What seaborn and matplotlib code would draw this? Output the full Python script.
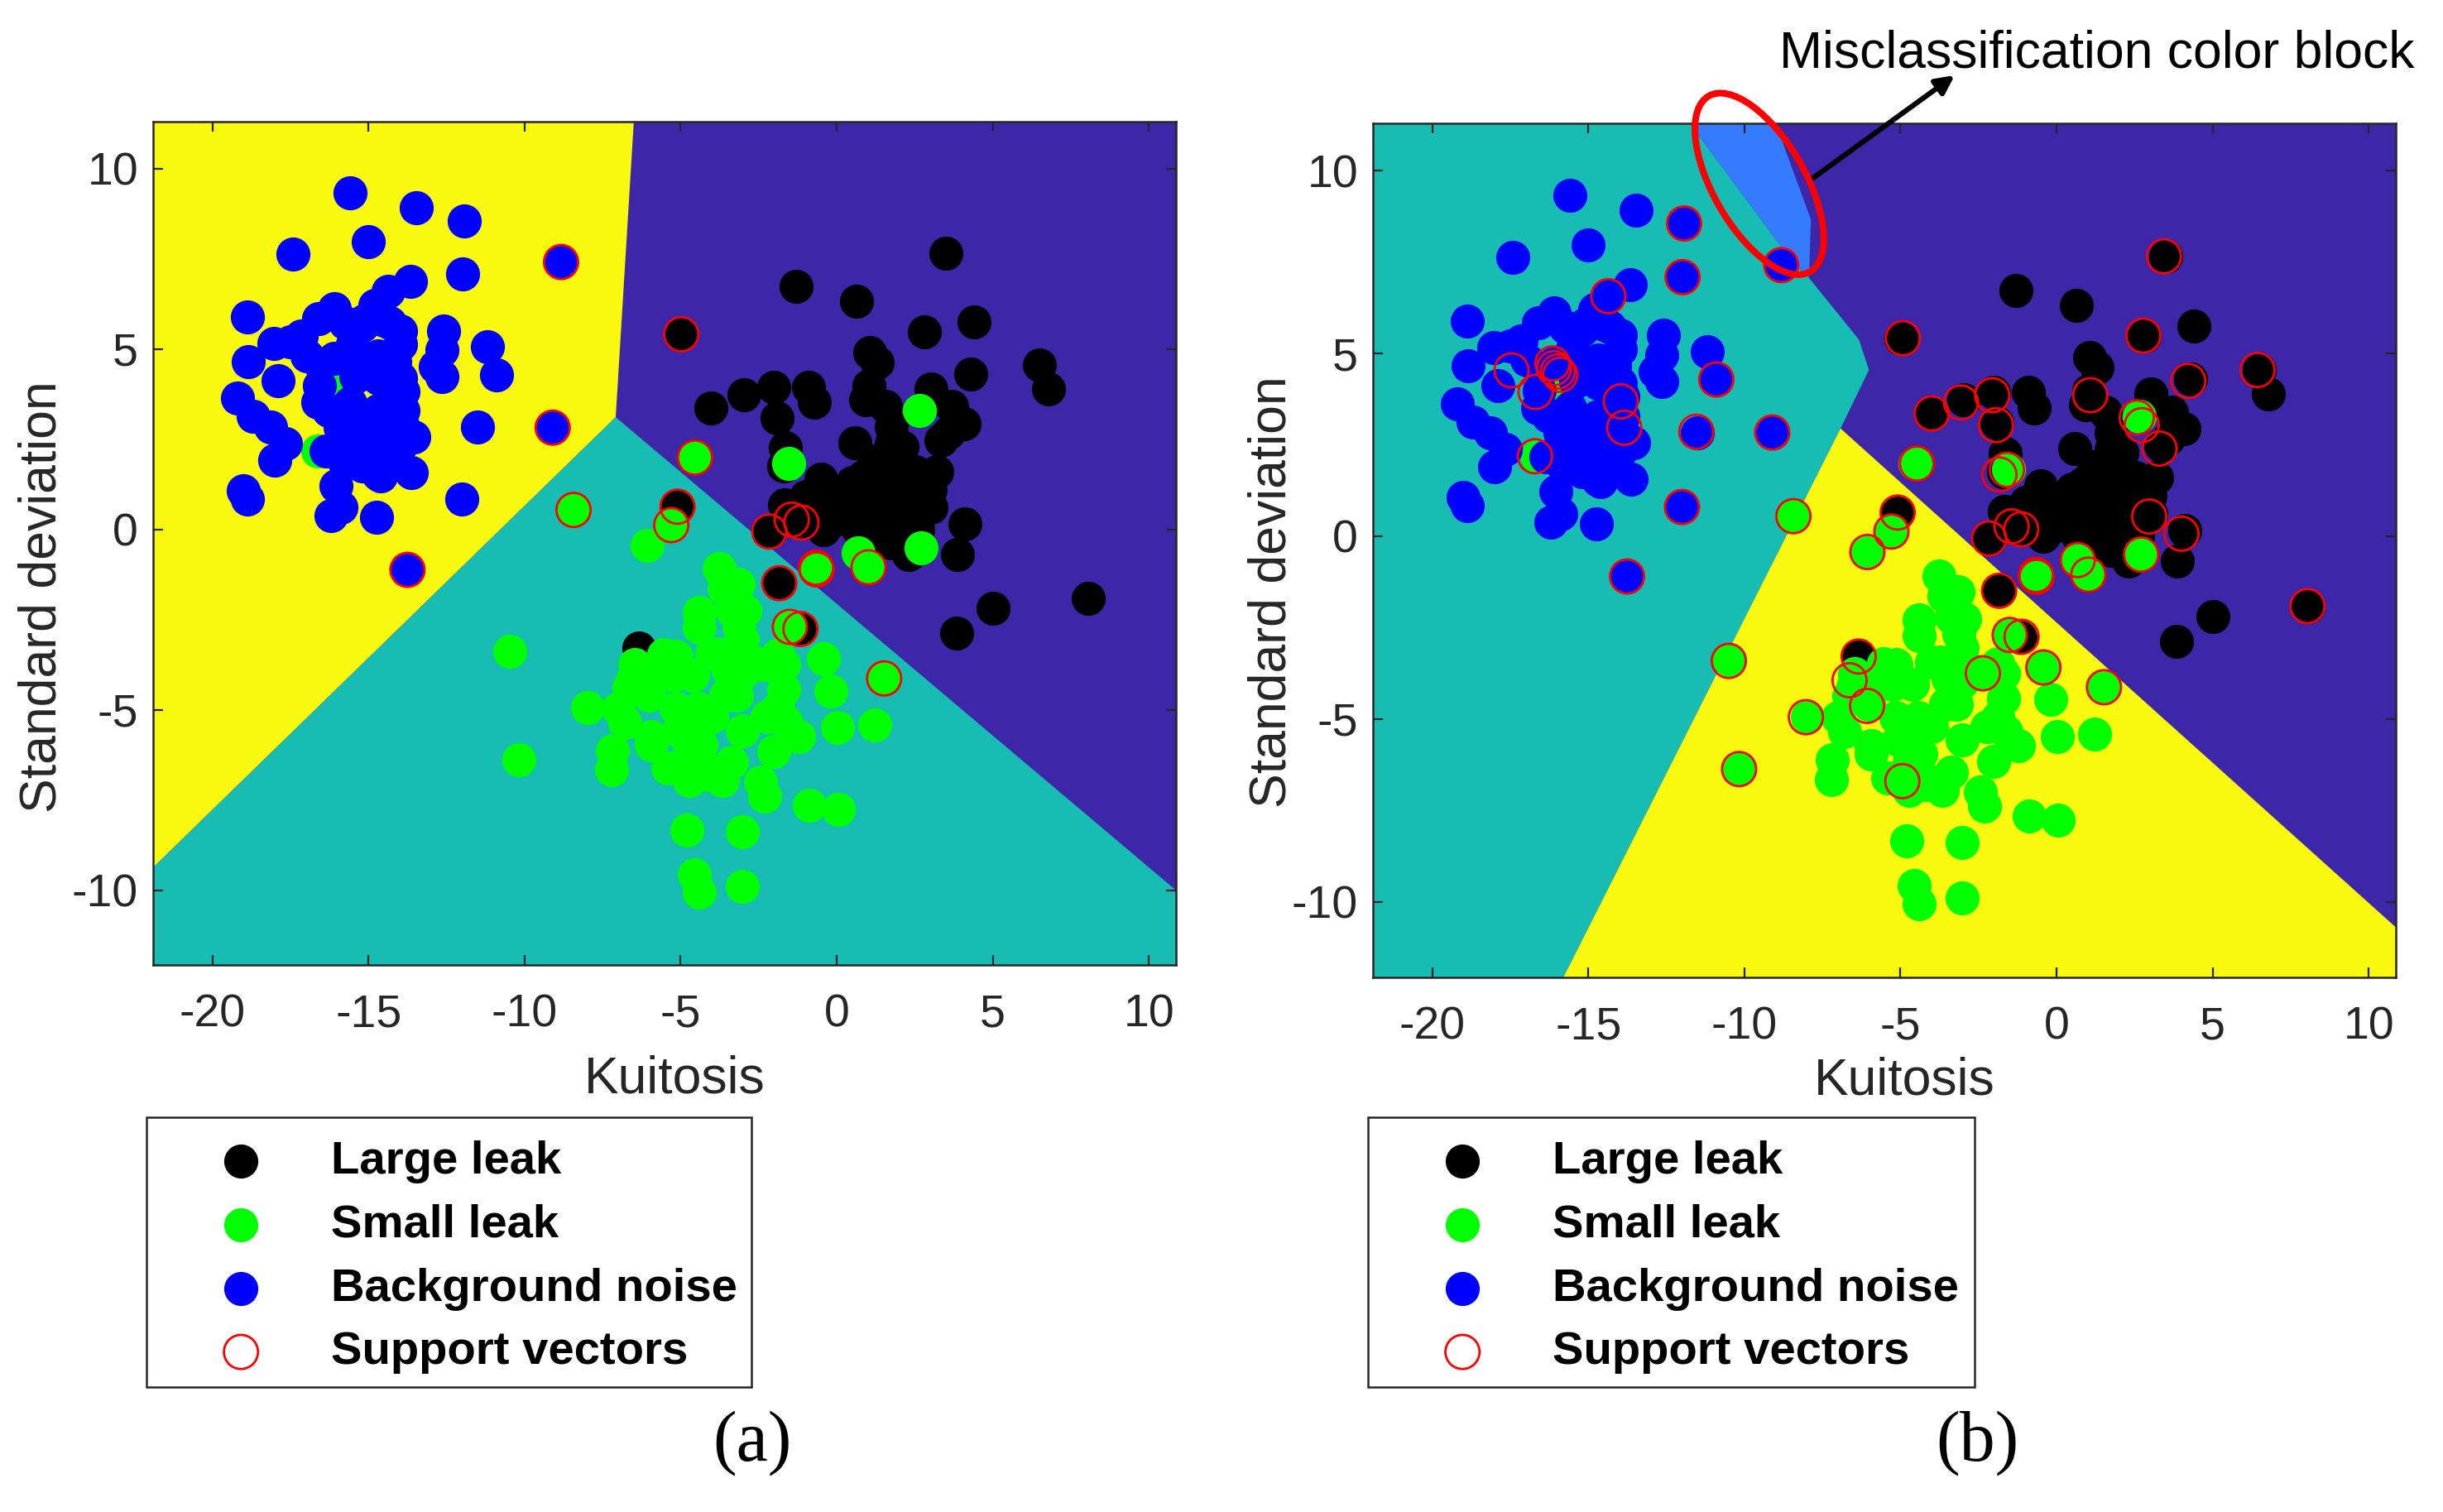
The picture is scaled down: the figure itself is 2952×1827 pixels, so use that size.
import numpy as np
import pandas as pd
import matplotlib
matplotlib.use("Agg")
import matplotlib.pyplot as plt
from matplotlib.patches import Ellipse, Rectangle
import seaborn as sns

sns.set_theme(style="white")
plt.rcParams['font.family'] = ['Liberation Sans', 'DejaVu Sans']
plt.rcParams['axes.unicode_minus'] = False

# ---------- data ----------
large_leak = [(-4.98,5.41),(-1.3,6.73),(0.63,6.32),(3.49,7.65),(2.82,5.48),(4.4,5.76),(1.07,4.9),(1.3,4.63),
 (1.03,3.98),(0.94,3.59),(1.56,3.4),(3.02,3.9),(4.3,4.3),(3.68,3.4),(4.08,2.94),(3.59,2.68),(3.33,2.48),
 (6.5,4.56),(6.8,3.89),(-4.03,3.37),(-2.98,3.73),(-2.01,3.94),(-0.91,3.94),(-0.72,3.52),(-1.9,3.1),(-1.64,2.26),(-1.7,1.76),
 (0.59,2.41),(1.74,2.83),(1.74,2.37),(2.09,2.29),(1.56,1.99),(3.2,1.61),(2.53,1.61),(2.09,1.83),(-0.51,1.39),(0.86,1.45),(0.5,1.3),
 (3.02,0.61),(4.12,0.15),(3.86,-0.69),(2.31,-0.69),(1.74,-0.38),(-0.42,0.0),(-1.66,0.69),(-0.99,0.92),(-0.38,1.07),(0.24,0.84),
 (0.94,1.07),(1.83,1.38),(2.27,0.99),(0.68,0.0),(1.3,-0.23),(2.0,0.15),(2.53,0.46),(-0.38,0.46),(0.24,0.31),(0.94,0.46),(1.83,0.69),
 (0.5,0.76),(1.39,1.38),(2.0,0.92),(-1.0,0.4),(-0.7,0.7),(2.7,-0.5),(1.2,1.9),(2.7,1.0),(1.3,0.6),(1.6,1.6),(2.6,0.0),(3.0,1.1),(-0.2,0.2),
 (8.05,-1.92),(5.0,-2.19),(3.85,-2.88),(-1.84,-1.49),(-5.1,0.63),(-2.16,-0.06),(-1.44,0.27),(-1.13,0.19),
 (-1.16,-2.76),(-6.34,-3.29)]

small_leak = [(2.65,3.29),(-1.55,1.83),(-4.54,1.99),(-8.43,0.54),(-5.3,0.12),(-6.07,-0.45),(0.68,-0.65),(1.02,-1.05),(2.71,-0.5),
 (-0.64,-1.11),(-1.5,-2.7),(-0.42,-3.59),(-0.19,-4.47),(1.52,-4.13),(1.21,-5.41),(0.02,-5.49),
 (-3.76,-1.09),(-3.16,-1.51),(-3.6,-1.64),(-2.94,-2.26),(-4.4,-2.29),(-4.4,-2.71),(-3.38,-2.22),(-3.03,-3.06),(-3.74,-3.44),
 (-3.12,-2.68),(-4.0,-3.44),(-1.88,-3.48),(-1.7,-3.75),(-2.36,-3.75),(-5.55,-3.48),(-5.15,-3.52),(-6.47,-3.75),(-6.52,-4.13),(-6.65,-4.36),
 (-6.03,-4.59),(-5.68,-3.9),(-4.62,-4.05),(-5.24,-4.05),(-6.12,-4.28),(-7.97,-4.93),(-7.0,-4.97),(-6.78,-5.35),(-5.94,-5.73),(-5.94,-5.96),
 (-7.18,-6.12),(-7.22,-6.65),(-5.15,-4.97),(-4.44,-4.97),(-4.0,-5.2),(-3.2,-4.59),(-3.56,-4.59),(-3.47,-3.9),(-3.03,-3.98),(-2.6,-3.7),
 (-1.7,-4.43),(-1.88,-4.97),(-1.62,-5.35),(-2.23,-5.2),(-3.03,-5.58),(-1.22,-5.73),(-2.01,-6.15),(-4.79,-5.73),(-5.06,-5.58),(-4.35,-5.96),
 (-4.71,-6.19),(-3.38,-6.46),(-5.41,-6.61),(-4.71,-6.96),(-3.65,-6.96),(-4.18,-6.8),(-4.35,-6.57),(-3.82,-6.73),(-2.45,-7.0),(-2.32,-7.38),
 (-0.87,-7.65),(0.06,-7.76),(-4.81,-8.33),(-3.01,-8.37),(-4.55,-9.56),(-4.4,-10.06),(-3.03,-9.9),(-10.47,-3.37),(-10.17,-6.39),
 (-16.62,2.18),(-16.0,3.95)]

background_noise = [(-15.6,9.33),(-13.46,8.92),(-11.93,8.55),(-15.0,7.98),(-17.43,7.64),(-11.98,7.08),(-8.83,7.41),
 (-13.66,6.88),(-14.38,6.6),(-14.8,6.2),(-18.88,5.89),(-16.1,6.12),(-16.6,5.85),(-14.7,6.04),
 (-18.04,5.16),(-17.5,5.2),(-17.16,5.35),(-18.84,4.66),(-17.9,4.13),(-12.6,5.5),(-12.65,4.97),(-12.87,4.51),(-12.65,4.24),(-13.98,5.12),
 (-11.2,5.06),(-10.9,4.29),(-19.2,3.63),(-18.7,3.13),(-18.13,2.83),(-17.66,2.37),(-18.0,1.91),(-16.36,2.18),
 (-19.0,1.07),(-18.88,0.84),(-16.05,1.22),(-15.87,0.61),(-16.2,0.38),(-14.73,0.34),(-12.0,0.84),(-11.5,2.84),(-9.1,2.82),
 (-13.75,-1.12),(-13.63,1.57),(-14.6,1.49),(-13.54,2.56),(-13.89,3.29),(-13.89,3.82),(-13.98,4.2),
 (-15.74,5.73),(-14.5,5.8),(-15.1,5.8),(-16.98,4.82),(-16.1,4.74),(-15.5,5.12),(-15.3,4.59),(-16.54,4.59),(-14.68,4.82),(-14.16,4.89),
 (-13.98,5.5),(-15.2,5.66),(-14.33,5.73),(-14.16,4.66),(-16.58,3.98),(-16.63,3.52),(-16.27,3.29),(-15.92,2.83),(-15.4,4.24),(-14.24,4.2),
 (-14.16,3.67),(-15.2,3.13),(-14.68,3.29),(-13.89,2.83),(-14.68,2.75),(-15.4,2.75),(-15.9,2.29),(-15.2,2.22),(-14.6,2.14),(-14.0,2.29),
 (-15.2,1.76),(-14.68,1.53),(-14.33,1.91),(-15.74,1.83),(-15.9,3.3),(-15.6,3.5),(-14.7,4.2)]

support_left = [(-8.83,7.41),(-9.1,2.82),(-13.75,-1.12),(-4.98,5.41),(-5.1,0.63),(-2.16,-0.06),(-1.44,0.27),(-1.13,0.19),
 (-1.84,-1.49),(-1.16,-2.76),(-4.54,1.99),(-8.43,0.54),(-5.3,0.12),(1.02,-1.05),(-0.64,-1.11),(-0.66,-1.06),(-1.5,-2.7),(1.52,-4.13)]

support_right = [(-11.93,8.56),(-11.98,7.09),(-14.36,6.57),(-8.82,7.42),(-17.46,4.54),(-16.15,4.73),(-16.1,4.6),(-15.98,4.51),
 (-15.9,4.42),(-16.69,3.95),(-13.96,3.69),(-13.85,2.97),(-10.9,4.29),(-11.54,2.86),(-9.11,2.84),(-12.0,0.8),(-16.71,2.19),
 (-13.76,-1.1),(-8.43,0.55),(-4.47,1.99),(-4.92,5.42),(-4.0,3.36),(-5.09,0.65),(-5.29,0.13),(-6.06,-0.43),
 (3.44,7.66),(2.78,5.49),(4.22,4.25),(6.44,4.55),(-3.06,3.66),(-2.06,3.86),(-1.94,3.04),(1.08,3.86),(2.57,3.25),(2.73,3.04),
 (3.3,2.4),(-1.59,1.82),(-1.83,1.69),(2.97,0.54),(4.0,0.07),(-2.16,-0.06),(-1.44,0.27),(-1.13,0.19),(-0.64,-1.11),(-0.66,-1.06),
 (0.68,-0.65),(1.02,-1.05),(2.71,-0.5),(8.04,-1.91),(-1.84,-1.49),(-1.5,-2.7),(-1.12,-2.75),(-2.36,-3.75),(-0.42,-3.59),
 (1.52,-4.13),(-6.07,-4.64),(-6.63,-3.94),(-6.34,-3.29),(-8.03,-4.95),(-10.17,-6.37),(-10.5,-3.41),(-4.94,-6.7)]

series_names = ["Large leak", "Small leak", "Background noise", "Support vectors"]
xticks = [-20, -15, -10, -5, 0, 5, 10]
yticks = [-10, -5, 0, 5, 10]
XLIM = (-21.9, 10.87)
YLIM = (-12.07, 11.3)

# decision regions: vertices
left_yellow = [(-21.9,11.3),(-6.5,11.3),(-7.08,3.11),(-21.9,-9.37)]
left_teal = [(-7.08,3.11),(10.87,-10.0),(10.87,-12.07),(-21.9,-12.07),(-21.9,-9.37)]
right_teal = [(-21.9,11.3),(-11.75,11.3),(-8.5,7.55),(-7.93,7.07),(-6.33,5.38),(-6.01,4.55),(-6.92,2.95),(-15.8,-12.07),(-21.9,-12.07)]
right_block = [(-11.75,11.3),(-9.0,11.3),(-7.87,8.67),(-7.93,7.07),(-8.5,7.55)]
right_yellow = [(-6.92,2.95),(10.87,-10.7),(10.87,-12.07),(-15.8,-12.07)]

C_PURPLE = "#3e26a8"
C_TEAL = "#17bdb2"
C_YELLOW = "#f9f90f"
C_BLOCK = "#347bff"
DARK = "#262626"

W, H = 2952, 1827
fig = plt.figure(figsize=(W/100, H/100), dpi=100, facecolor="white")

def px_axes(l, t, r, b):
    return fig.add_axes([l/W, 1-b/H, (r-l)/W, (b-t)/H])

def frame(pairs):
    return pd.DataFrame(pairs, columns=["x", "y"])

def draw_panel(ax, regions, support, box, xlabel_px, ylabel_px):
    ax.set_facecolor(C_PURPLE)
    for poly, col in regions:
        ax.fill(*zip(*poly), color=col, lw=0, zorder=1)
    S = 880
    sns.scatterplot(data=frame(large_leak), x="x", y="y", ax=ax, color="black", s=S, linewidth=0, label=series_names[0], zorder=3)
    sns.scatterplot(data=frame(small_leak), x="x", y="y", ax=ax, color="#00ff00", s=S, linewidth=0, label=series_names[1], zorder=4)
    sns.scatterplot(data=frame(background_noise), x="x", y="y", ax=ax, color="#0000ff", s=S, linewidth=0, label=series_names[2], zorder=5)
    sns.scatterplot(data=frame(support), x="x", y="y", ax=ax, facecolor="none", edgecolor="#ff0000", s=S, linewidth=2.0, label=series_names[3], zorder=6)
    ax.set_xlim(*XLIM); ax.set_ylim(*YLIM)
    ax.set_xticks(xticks); ax.set_yticks(yticks)
    ax.set_xticklabels([str(v) for v in xticks]); ax.set_yticklabels([str(v) for v in yticks])
    ax.tick_params(axis="both", which="major", direction="in", length=8.5, width=1.6, color=DARK,
                   top=True, right=True, left=True, bottom=True, labelsize=40, labelcolor=DARK)
    ax.tick_params(axis="x", pad=25)
    ax.tick_params(axis="y", pad=13)
    for sp in ax.spines.values():
        sp.set_visible(True); sp.set_color(DARK); sp.set_linewidth(1.8); sp.set_zorder(10)
    ax.set_axisbelow(False)
    ax.grid(False)
    ax.set_xlabel("")
    ax.set_ylabel("")
    fig.text(xlabel_px[0]/W, 1-xlabel_px[1]/H, "Kuitosis", fontsize=45, color=DARK, ha="center", va="center")
    fig.text(ylabel_px[0]/W, 1-ylabel_px[1]/H, "Standard deviation", fontsize=45, color=DARK, ha="center", va="center", rotation=90)
    l, t, r, b = box
    fig.add_artist(Rectangle((l, H-b), r-l, b-t, facecolor="none", edgecolor=DARK, linewidth=1.8, transform=None))
    leg = ax.legend(loc="upper left", bbox_to_anchor=(l/W, 1-(t+9)/H), bbox_transform=fig.transFigure,
                    prop={"weight": "bold", "size": 40.5, "family": "Liberation Sans"}, frameon=False,
                    borderaxespad=0, borderpad=0.34,
                    handlelength=3.38, handletextpad=0.24, labelspacing=0.44, scatterpoints=1)
    leg.set_zorder(20)
    for t_ in leg.get_texts():
        t_.set_color("black")

s = 1.883
axL = px_axes(185, 147, 1421, 1166)
axR = px_axes(1659, 149, 2895, 1181)

draw_panel(axL, [(left_yellow, C_YELLOW), (left_teal, C_TEAL)], support_left, (177, 1350, 908, 1676), (433*s, 692.5*s), (27*s, 383*s))
draw_panel(axR, [(right_teal, C_TEAL), (right_block, C_BLOCK), (right_yellow, C_YELLOW)], support_right, (1653, 1350, 2386, 1676), (1222*s, 693.5*s), (816*s, 380*s))

# ellipse outlining the misclassified block, in figure pixels
fig.add_artist(Ellipse((1129*s, H-118*s), width=245, height=111, angle=-60, facecolor="none",
                       edgecolor="#ff0000", linewidth=5.8, transform=None, zorder=30))

fig.text(1345.5*s/W, 1-34.5*s/H, "Misclassification color block", fontsize=45, color="black", ha="center", va="center")
axR.annotate("", xy=(2362, H-91), xytext=(2191, H-215), xycoords="figure pixels", textcoords="figure pixels",
             arrowprops=dict(arrowstyle="-|>,head_length=1.1,head_width=0.55", color="black", lw=4.5, shrinkA=0, shrinkB=0),
             annotation_clip=False, zorder=30)

fig.text(482.5*s/W, 1-926*s/H, "(a)", fontsize=62, family="Liberation Serif", color="black", ha="center", va="center")
fig.text(1269*s/W, 1-926*s/H, "(b)", fontsize=62, family="Liberation Serif", color="black", ha="center", va="center")

fig.savefig("out.png", dpi=100)
